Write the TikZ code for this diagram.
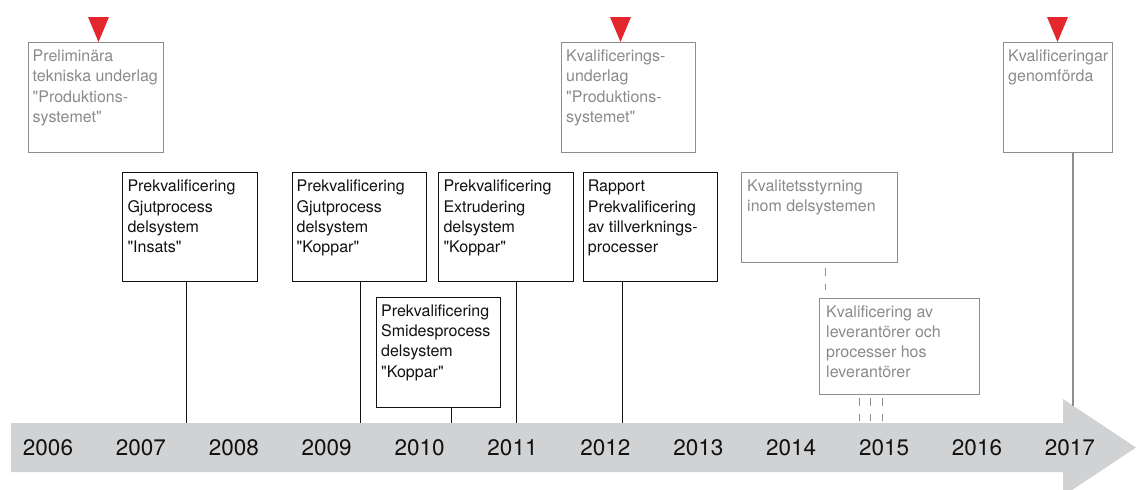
\documentclass[tikz,border=0pt]{standalone}
\usepackage{fontspec}
% straight quotation marks are kept as typed
\setmainfont{TeX Gyre Heros}[Ligatures=TeXOff]
\usetikzlibrary{calc}
\definecolor{milestone}{HTML}{E4262F}
\definecolor{bandgrey}{HTML}{D1D2D4}
\definecolor{greyline}{HTML}{8E8E8E}
\definecolor{greytext}{HTML}{8A8A8A}
\definecolor{ink}{HTML}{111111}
% multi-line box text whose baseline is that of the first line
\newcommand\boxlines[1]{\parbox[t]{170pt}{\raggedright #1}}

\begin{document}
\begin{tikzpicture}[x=1pt,y=-1pt,
  box/.style={rectangle, inner sep=0pt, anchor=north west},
  stage/.style={box, draw=ink, line width=1.1pt},
  plan/.style={box, draw=greyline, line width=1.2pt},
  boxtext/.style={anchor=base west, inner sep=0pt, font=\fontsize{16}{20.2}\selectfont},
  stagetext/.style={boxtext, text=ink},
  plantext/.style={boxtext, text=greytext},
  year/.style={anchor=base, inner sep=0pt, text=ink, font=\fontsize{22.5}{24}\selectfont},
  stem/.style={draw=ink, line width=1.1pt},
  planstem/.style={draw=greyline, line width=1.1pt},
  dashstem/.style={draw=greyline, line width=1pt, dash pattern=on 8pt off 8pt},
  marker/.style={fill=milestone}
]
\clip (0,0) rectangle (1136,490);

% time band with arrow head
\fill[bandgrey] (11,423) -- (1063,423) -- (1063,399) -- (1136,447.5)
  -- (1063,496) -- (1063,472) -- (11,472) -- cycle;
\foreach \yr [count=\i from 0] in {2006,...,2017}
  \node[year] (y\yr) at ({48+92.9*\i},455) {\yr};

% milestones (grey boxes with red markers)
\node[plan, minimum width=135, minimum height=110] (ms1) at (28,42) {};
\node[plantext] (ms1t) at ($(ms1.north west)+(4.5,19.7)$)
  {\boxlines{Preliminära\\tekniska underlag\\"Produktions-\\systemet"}};
\node[plan, minimum width=134, minimum height=110] (ms2) at (561,42) {};
\node[plantext] (ms2t) at ($(ms2.north west)+(5,19.7)$)
  {\boxlines{Kvalificerings-\\underlag\\"Produktions-\\systemet"}};
\node[plan, minimum width=109, minimum height=110] (ms3) at (1003,42) {};
\node[plantext] (ms3t) at ($(ms3.north west)+(5,19.7)$)
  {\boxlines{Kvalificeringar\\genomförda}};

\fill[marker] (88,17) -- (109,17) -- (98.5,42) -- cycle;
\fill[marker] (610,17) -- (631,17) -- (620.5,42) -- cycle;
\fill[marker] (1047,17) -- (1068,17) -- (1057.5,42) -- cycle;

% prequalification stages
\node[stage, minimum width=134.5, minimum height=108.5] (pA) at (122.3,172.3) {};
\node[stagetext] (pAt) at ($(pA.north west)+(5,19.5)$)
  {\boxlines{Prekvalificering\\Gjutprocess\\delsystem\\"Insats"}};
\node[stage, minimum width=134, minimum height=108.5] (pB) at (291.5,172.3) {};
\node[stagetext] (pBt) at ($(pB.north west)+(5,19.5)$)
  {\boxlines{Prekvalificering\\Gjutprocess\\delsystem\\"Koppar"}};
\node[stage, minimum width=135, minimum height=108.5] (pC) at (438.3,172.3) {};
\node[stagetext] (pCt) at ($(pC.north west)+(5,19.5)$)
  {\boxlines{Prekvalificering\\Extrudering\\delsystem\\"Koppar"}};
\node[stage, minimum width=134.5, minimum height=108.5] (pD) at (582.7,172.3) {};
\node[stagetext] (pDt) at ($(pD.north west)+(5,19.5)$)
  {\boxlines{Rapport\\Prekvalificering\\av tillverknings-\\processer}};
\node[stage, minimum width=124, minimum height=110] (pE) at (376,297) {};
\node[stagetext] (pEt) at ($(pE.north west)+(5,19.5)$)
  {\boxlines{Prekvalificering\\Smidesprocess\\delsystem\\"Koppar"}};

% quality work (grey boxes)
\node[plan, minimum width=156, minimum height=90] (qF) at (741,172) {};
\node[plantext] (qFt) at ($(qF.north west)+(6,19.7)$)
  {\boxlines{Kvalitetsstyrning\\inom delsystemen}};
\node[plan, minimum width=160, minimum height=96] (qG) at (819,298) {};
\node[plantext] (qGt) at ($(qG.north west)+(7,19)$)
  {\boxlines{Kvalificering av\\leverantörer och\\processer hos\\leverantörer}};

% stems down to the time band
\coordinate (sA) at (186.7,423);
\coordinate (sB) at (360.7,423);
\coordinate (sC) at (516.3,423);
\coordinate (sD) at (622.5,423);
\coordinate (sE) at (451.3,423);
\coordinate (s3) at (1073,405.6);
\draw[stem] (pA.south -| sA) -- (sA);
\draw[stem] (pB.south -| sB) -- (sB);
\draw[stem] (pC.south -| sC) -- (sC);
\draw[stem] (pD.south -| sD) -- (sD);
\draw[stem] (pE.south -| sE) -- (sE);
\draw[planstem] (ms3.south -| s3) -- (s3);

% dashed links of the quality work
\coordinate (dF) at (825,0);
\draw[dashstem, shorten <=5pt, shorten >=8pt] (qF.south -| dF) -- (qG.north -| dF);
\foreach \xx [count=\k] in {859,870.5,882} {
  \coordinate (dG\k) at (\xx,423);
  \draw[dashstem, shorten <=3pt, shorten >=2pt] (qG.south -| dG\k) -- (dG\k);
}
\end{tikzpicture}
\end{document}
